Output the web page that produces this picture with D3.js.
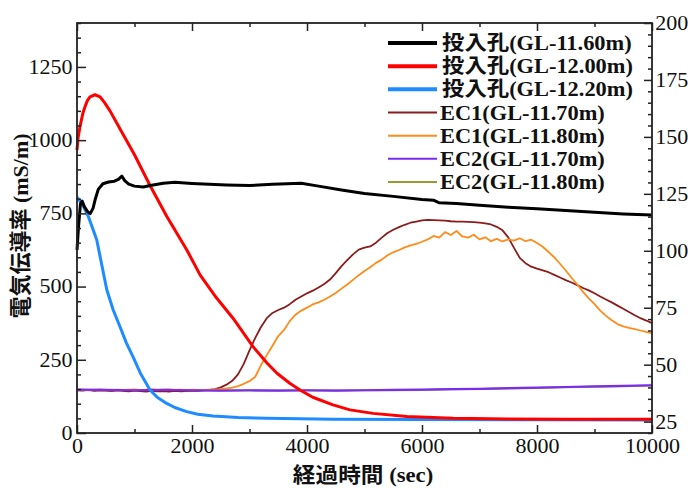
<!DOCTYPE html>
<html>
<head>
<meta charset="utf-8">
<script src="https://cdn.jsdelivr.net/npm/d3@7"></script>
<style>
  html, body { margin: 0; padding: 0; background: #fff; }
  svg { display: block; }
  svg text { font-family: "Liberation Serif", "DejaVu Serif", "Noto Sans CJK JP", serif; }
</style>
</head>
<body>
<svg id="chart" width="688" height="488"></svg>
<script>
// ---- data -------------------------------------------------------------
// Injection hole sensors: [elapsed seconds, conductivity mS/m]
const hole1160 = [[0,625],[25,700],[60,782],[90,792],[130,772],[180,757],[230,749],[280,768],[320,800],[370,832],[450,851],[550,857],[650,860],[720,866],[780,877],[830,862],[900,850],[1000,843],[1150,840],[1300,846],[1500,853],[1700,856],[2000,852],[2300,849],[2600,847],[3000,845],[3400,849],[3900,853],[4200,843],[4600,830],[5000,818],[5500,808],[6000,797],[6200,795],[6300,786],[6600,784],[7000,778],[7500,771],[8000,766],[8500,760],[9000,754],[9500,748],[10000,744]];
const hole1200 = [[0,966],[20,1010],[52,1046],[100,1090],[139,1114],[180,1135],[226,1148],[313,1155],[400,1148],[480,1128],[574,1100],[800,1020],[1000,950],[1270,845],[1560,740],[1910,625],[2140,540],[2400,468],[2713,392],[3061,295],[3300,240],[3478,204],[3700,170],[3878,147],[4100,122],[4452,96],[4748,79],[5148,67],[5739,56],[6539,50],[7500,48],[8500,47],[10000,47]];
const hole1220 = [[0,805],[100,778],[200,738],[343,660],[430,575],[517,490],[630,420],[748,363],[860,307],[979,258],[1100,205],[1270,147],[1400,121],[1560,101],[1700,87],[1908,73],[2100,64],[2365,58],[2800,53],[3300,50],[4450,47],[6000,46],[8000,45],[10000,44]];

// Observation wells EC1 logged every 100 s, EC2 every 500 s
const ec1Interval = 100;
const ec2Interval = 500;
const ec1_1170 = [146,145,147,144,146,145,143,146,144,142,145,143,141,144,142,143,141,144,142,143,145,144,146,147,
  150,156,165,178,200,236,282,325,362,392,410,420,428,440,455,466,477,486,497,509,524,546,570,590,610,626,
  633,637,650,667,683,694,703,711,718,722,726,728,727,726,725,723,722,722,721,720,718,716,712,704,692,668,
  632,598,580,568,561,555,549,540,531,522,514,505,495,487,477,466,456,446,435,424,413,402,392,384,375];
const ec1_1180 = [147,148,146,147,149,147,146,148,147,148,149,147,148,150,147,148,149,147,148,146,148,147,147,148,149,150,152,
  155,160,168,177,192,232,266,298,331,352,382,404,418,428,439,446,455,466,478,493,507,523,539,553,566,581,
  592,607,617,625,634,641,646,653,661,673,667,686,676,690,671,667,677,661,668,655,663,654,661,657,665,655,
  660,649,636,618,600,578,555,530,507,482,460,440,418,400,385,372,364,359,355,350,345,340];
const ec2_1170 = [148,147,146,147,146,145,146,145,146,145,146,147,148,150,151,153,155,157,159,161,163];
const ec2_1180 = [147,146,146,146,145,145,145,145,145,145,146,146,147,149,150,152,154,156,158,160,162];

const seriesNames = ["投入孔(GL-11.60m)","投入孔(GL-12.00m)","投入孔(GL-12.20m)",
                     "EC1(GL-11.70m)","EC1(GL-11.80m)","EC2(GL-11.70m)","EC2(GL-11.80m)"];

const xMajorTicks = [0,2000,4000,6000,8000,10000];
const yLeftTicks = [0,250,500,750,1000,1250];
const yRightTicks = [25,50,75,100,125,150,175,200];

// ---- layout -------------------------------------------------------------
const svg = d3.select("#chart");
const L = 77, R = 652, T = 23, B = 433;

const x = d3.scaleLinear().domain([0, 10000]).range([L, R]);
const yL = d3.scaleLinear().domain([0, 1400]).range([B, T]);
const yR = d3.scaleLinear().domain([20, 200]).range([B, T]);

const sampled = (vals, step) => vals.map((v, i) => [i * step, v]);

const colors = ["#000000","#ff0000","#1e8cff","#8b1c1c","#ff8c1a","#7a2cf2","#999933"];
const widths = [3, 3, 3, 1.8, 1.8, 2.2, 2];
const data = [hole1160, hole1200, hole1220,
              sampled(ec1_1170, ec1Interval), sampled(ec1_1180, ec1Interval),
              sampled(ec2_1170, ec2Interval), sampled(ec2_1180, ec2Interval)];

const line = d3.line().x(d => x(d[0])).y(d => yL(d[1]));

// draw observation wells first, injection hole on top
const drawOrder = [6, 3, 4, 5, 2, 1, 0];
const plot = svg.append("g");
drawOrder.forEach(i => {
  plot.append("path")
    .attr("d", line(data[i]))
    .attr("fill", "none")
    .attr("stroke", colors[i])
    .attr("stroke-width", widths[i])
    .attr("stroke-linejoin", "round");
});

// ---- axes -------------------------------------------------------------
function styleAxis(g) {
  g.attr("font-family", null).attr("font-size", null);
  g.select(".domain").remove();
  g.selectAll("line").attr("stroke", "#222").attr("stroke-width", 1.5);
  g.selectAll("text")
    .style("font-size", "20px")
    .attr("fill", "#111")
    .attr("transform", "scale(1.1,1)");
}

const xMinor = [1000,3000,5000,7000,9000];
const yLeftMinor = d3.range(0, 1401, 50).filter(v => v % 250 !== 0);
const yRightMinor = d3.range(20, 201, 5).filter(v => v % 25 !== 0);

svg.append("g").attr("transform", `translate(0,${B})`)
  .call(d3.axisBottom(x).tickValues(xMajorTicks).tickSize(-8).tickPadding(6).tickFormat(d3.format("d")))
  .call(styleAxis);
svg.append("g").attr("transform", `translate(0,${B})`)
  .call(d3.axisBottom(x).tickValues(xMinor).tickSize(-4).tickFormat(""))
  .call(styleAxis);
svg.append("g").attr("transform", `translate(0,${T})`)
  .call(d3.axisTop(x).tickValues(xMajorTicks).tickSize(-8).tickFormat(""))
  .call(styleAxis);
svg.append("g").attr("transform", `translate(0,${T})`)
  .call(d3.axisTop(x).tickValues(xMinor).tickSize(-4).tickFormat(""))
  .call(styleAxis);

svg.append("g").attr("transform", `translate(${L},0)`)
  .call(d3.axisLeft(yL).tickValues(yLeftTicks).tickSize(-9).tickPadding(4).tickFormat(d3.format("d")))
  .call(styleAxis);
svg.append("g").attr("transform", `translate(${L},0)`)
  .call(d3.axisLeft(yL).tickValues(yLeftMinor).tickSize(-4).tickFormat(""))
  .call(styleAxis);

svg.append("g").attr("transform", `translate(${R},0)`)
  .call(d3.axisRight(yR).tickValues(yRightTicks).tickSize(-8).tickPadding(3).tickFormat(d3.format("d")))
  .call(styleAxis);
svg.append("g").attr("transform", `translate(${R},0)`)
  .call(d3.axisRight(yR).tickValues(yRightMinor).tickSize(-4).tickFormat(""))
  .call(styleAxis);

// frame
svg.append("rect")
  .attr("x", L).attr("y", T).attr("width", R - L).attr("height", B - T)
  .attr("fill", "none").attr("stroke", "#222").attr("stroke-width", 1.8);

// ---- axis titles ----------------------------------------------------------
svg.append("text")
  .attr("transform", `translate(363,482) scale(1.08,1)`)
  .attr("text-anchor", "middle")
  .style("font-weight", "bold").style("font-size", "21px")
  .attr("fill", "#111")
  .text("経過時間 (sec)");

svg.append("text")
  .attr("transform", `translate(28,226) rotate(-90)`)
  .attr("text-anchor", "middle")
  .style("font-weight", "bold").style("font-size", "22px")
  .attr("fill", "#111")
  .text("電気伝導率 (mS/m)");

// ---- legend -------------------------------------------------------------
const legendRowY = d3.scaleLinear().domain([0, 6]).range([43, 182]);
seriesNames.forEach((name, i) => {
  const cy = legendRowY(i);
  svg.append("line")
    .attr("x1", 388).attr("x2", 437).attr("y1", cy).attr("y2", cy)
    .attr("stroke", colors[i]).attr("stroke-width", i < 3 ? 4 : 2);
  svg.append("text")
    .attr("transform", `translate(${i < 3 ? 442 : 440},${cy}) scale(1.12,1)`)
    .attr("dy", "0.35em")
    .style("font-weight", "bold").style("font-size", "20px")
    .attr("fill", "#111")
    .text(name);
});
</script>
</body>
</html>
